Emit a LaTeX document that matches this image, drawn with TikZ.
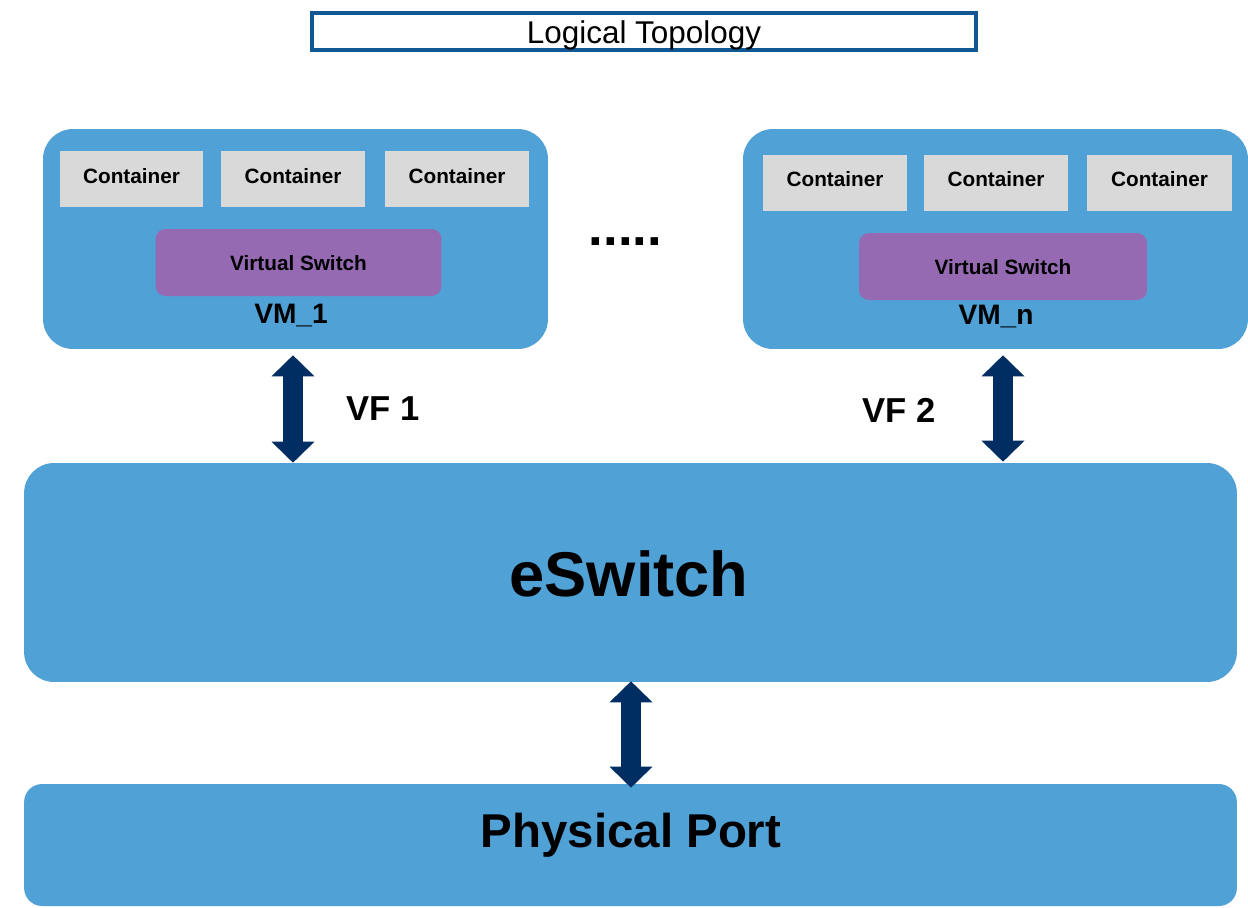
\documentclass[tikz,border=0pt]{standalone}
\usepackage{fontspec}
\setmainfont{Liberation Sans}
\usetikzlibrary{arrows.meta,calc}
\definecolor{boxblue}{RGB}{79,161,214}
\definecolor{titleblue}{RGB}{16,88,148}
\definecolor{contgray}{RGB}{217,217,217}
\definecolor{vspurple}{RGB}{149,106,179}
\definecolor{navy}{RGB}{0,45,98}
\tikzset{
  bluebox/.style={fill=boxblue, draw=none, inner sep=0pt},
  container/.style={fill=contgray, draw=none, inner sep=0pt, minimum height=1.12cm,
    font=\fontsize{11.8}{12}\selectfont\bfseries, text height=0.32cm, text depth=0.16cm},
  vswitch/.style={fill=vspurple, draw=none, inner sep=0pt, rounded corners=0.2cm,
    minimum width=5.72cm, minimum height=1.34cm,
    font=\fontsize{11.8}{12}\selectfont\bfseries, text height=0.32cm, text depth=0pt},
  vmlabel/.style={anchor=base, inner sep=0pt, font=\fontsize{16}{18}\selectfont\bfseries},
  vflabel/.style={anchor=base, inner sep=0pt, font=\fontsize{19.7}{22}\selectfont\bfseries},
  varrow/.style={draw=navy, line width=0.4cm,
    {Triangle[width=0.86cm,length=0.42cm,line width=0pt]}-{Triangle[width=0.86cm,length=0.42cm,line width=0pt]}},
}
\begin{document}
\begin{tikzpicture}[x=0.02cm,y=-0.02cm]
\useasboundingbox[fill=white] (0,0) rectangle (1248,907);

% title
\node[draw=titleblue, line width=0.08cm, fill=white, inner sep=0pt,
  minimum width=13.28cm, minimum height=0.74cm,
  font=\fontsize{17.9}{20}\selectfont, text height=0.46cm, text depth=0pt]
  (title) at (644,31.5) {Logical Topology};

% VM_1
\node[bluebox, rounded corners=0.6cm, minimum width=10.1cm, minimum height=4.4cm] (vm1) at (295.5,239) {};
\node[container, minimum width=2.86cm] (c11) at (131.5,179) {Container};
\node[container, minimum width=2.88cm] (c12) at (293,179) {Container};
\node[container, minimum width=2.88cm] (c13) at (457,179) {Container};
\node[vswitch] (vs1) at (298.5,262.5) {Virtual Switch};
\node[vmlabel] (vm1lab) at (291,323) {VM\_1};

% VM_n
\node[bluebox, rounded corners=0.6cm, minimum width=10.1cm, minimum height=4.4cm] (vmn) at (995.5,239) {};
\node[container, minimum width=2.88cm] (cn1) at (835,182.5) {Container};
\node[container, minimum width=2.88cm] (cn2) at (996,182.5) {Container};
\node[container, minimum width=2.9cm] (cn3) at (1159.5,182.5) {Container};
\node[vswitch, minimum width=5.76cm] (vsn) at (1003,266.5) {Virtual Switch};
\node[vmlabel] (vmnlab) at (996,324) {VM\_n};

% dots
\node[anchor=base, inner sep=0pt, font=\fontsize{30}{32}\selectfont\bfseries] (dots) at (625.5,245) {.....};

% eSwitch
\node[bluebox, rounded corners=0.6cm, minimum width=24.26cm, minimum height=4.38cm] (esw) at (630.5,572.5) {};
\node[anchor=base, inner sep=0pt, font=\fontsize{36}{40}\selectfont\bfseries] (eswlab) at (629,596) {eSwitch};

% Physical port
\node[bluebox, rounded corners=0.36cm, minimum width=24.26cm, minimum height=2.44cm] (phys) at (630.5,845) {};
\node[anchor=base, inner sep=0pt, font=\fontsize{27}{30}\selectfont\bfseries] (physlab) at (631,847) {Physical Port};

% arrows
\coordinate (a1x) at (293,0);
\coordinate (a2x) at (1003,0);
\coordinate (a3x) at (631,0);
\draw[varrow] ($(vm1.south -| a1x)+(0,6)$) -- (esw.north -| a1x);
\draw[varrow] ($(vmn.south -| a2x)+(0,6)$) -- ($(esw.north -| a2x)+(0,-1)$);
\draw[varrow] ($(esw.south -| a3x)+(0,-1)$) -- ($(phys.north -| a3x)+(0,4)$);

\node[vflabel] (vf1) at (383,420) {VF 1};
\node[vflabel] (vf2) at (899,422) {VF 2};
\end{tikzpicture}
\end{document}
